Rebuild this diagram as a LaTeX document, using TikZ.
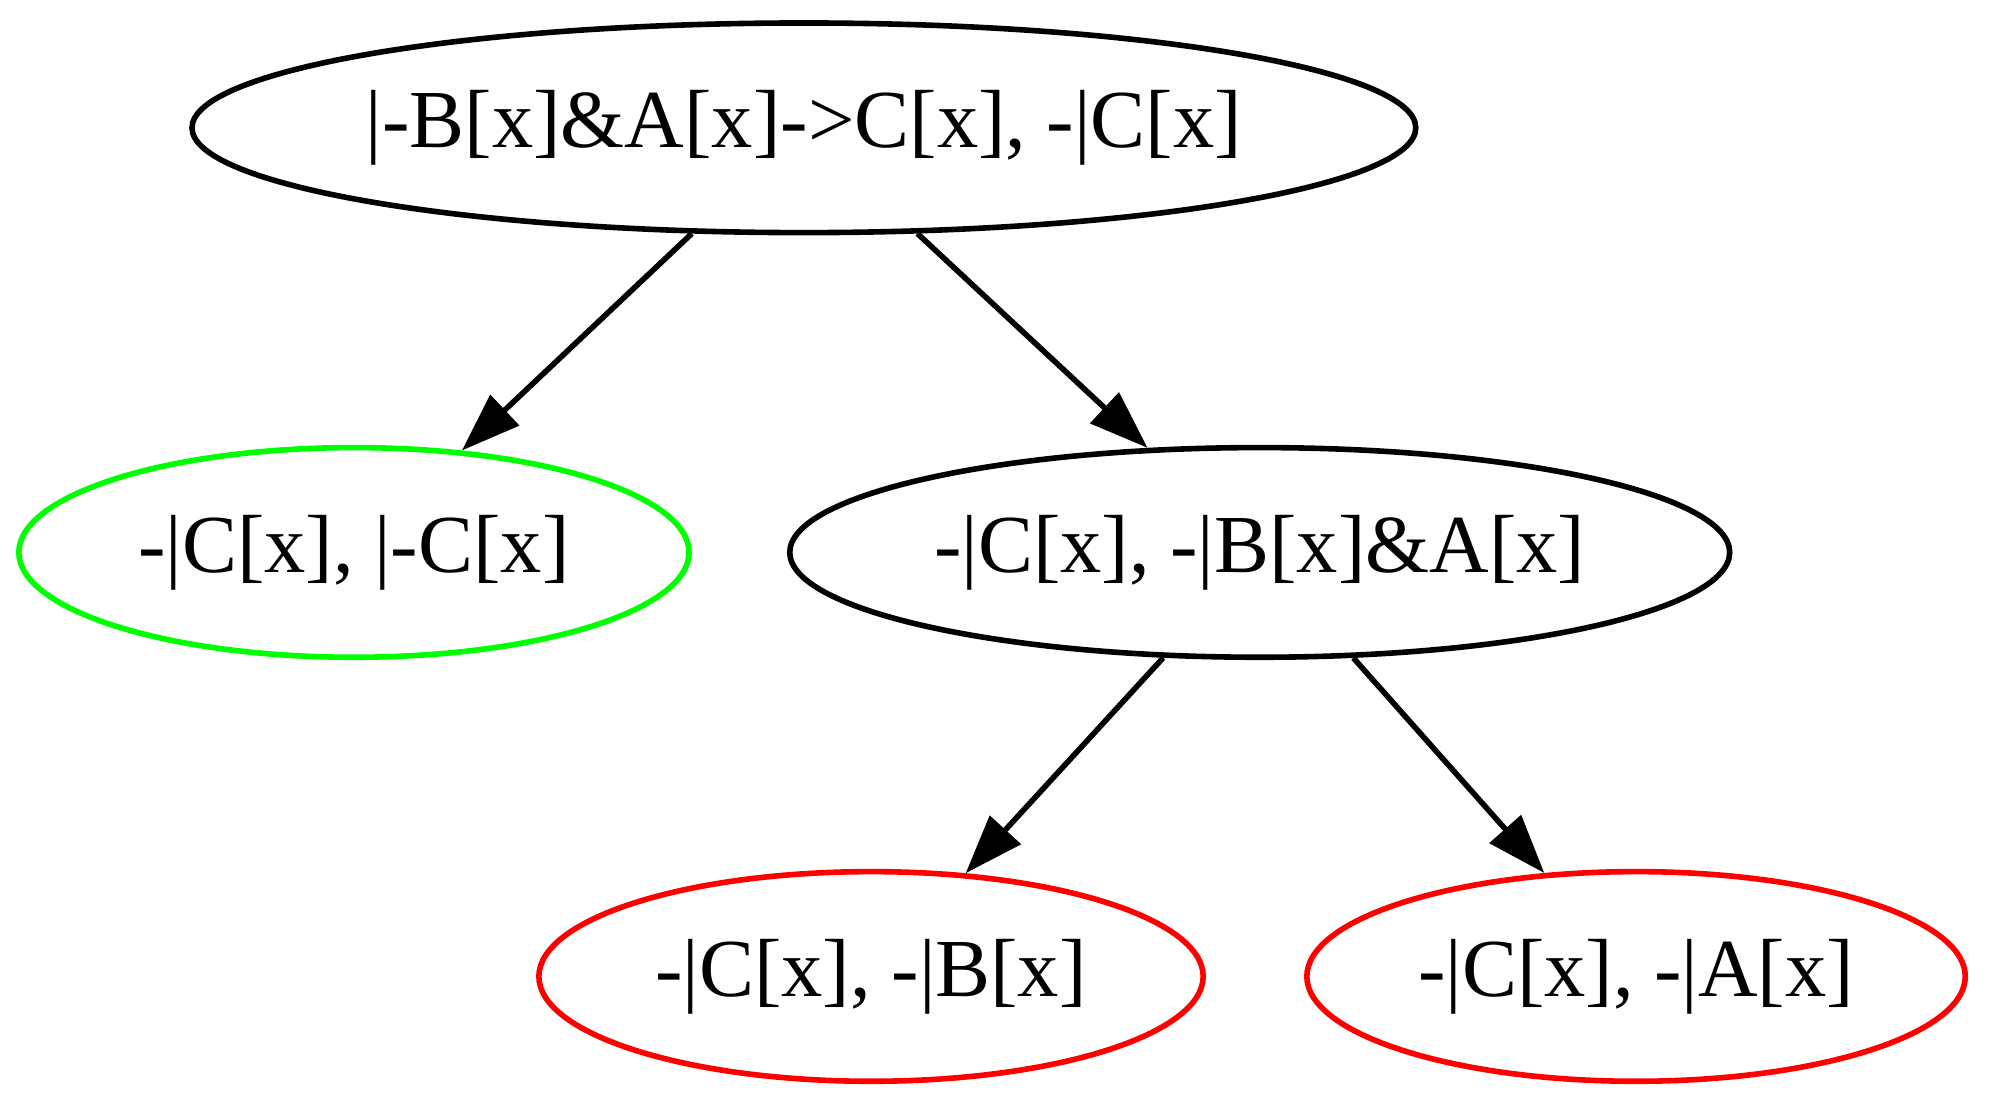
\documentclass[tikz,border=0pt]{standalone}
\usepackage{fontspec}
\setmainfont{Liberation Serif}
\usetikzlibrary{arrows.meta,shapes.geometric,positioning}

\definecolor{closedgreen}{RGB}{0,255,0}
\definecolor{openred}{RGB}{255,0,0}

% label kept at zero width so the ellipse keeps its own size
\newcommand{\seqtext}[1]{\makebox[0pt]{#1}}

\tikzset{
    seq/.style={ellipse, draw, line width=0.95pt, inner sep=0pt,
                minimum height=35.6pt,
                font=\fontsize{14pt}{17pt}\selectfont},
    closed/.style={seq, draw=closedgreen},
    open/.style={seq, draw=openred}
}

\begin{document}
\begin{tikzpicture}[>={Triangle[length=10pt,width=7pt]}, line width=0.95pt, on grid]

    \useasboundingbox (0,0) rectangle (339.6pt,187.8pt);

    \node[seq, minimum width=207.8pt]    (root)   at (136.5pt,166.1pt)                    {\seqtext{|-B[x]\&A[x]->C[x], -|C[x]}};
    \node[closed, minimum width=113.8pt] (axiom)  [below left=72.1pt and 76.4pt of root]  {\seqtext{-|C[x], |-C[x]}};
    \node[seq, minimum width=159.6pt]    (split)  [below right=72.1pt and 77.4pt of root] {\seqtext{-|C[x], -|B[x]\&A[x]}};
    \node[open, minimum width=112.8pt]   (leftB)  [below left=72pt and 66pt of split]     {\seqtext{-|C[x], -|B[x]}};
    \node[open, minimum width=111.8pt]   (rightA) [below right=72pt and 63.9pt of split]  {\seqtext{-|C[x], -|A[x]}};

    \path[->]   (root)   edge   (axiom)
                         edge   (split)
                (split)  edge   (leftB)
                         edge   (rightA);

\end{tikzpicture}
\end{document}
